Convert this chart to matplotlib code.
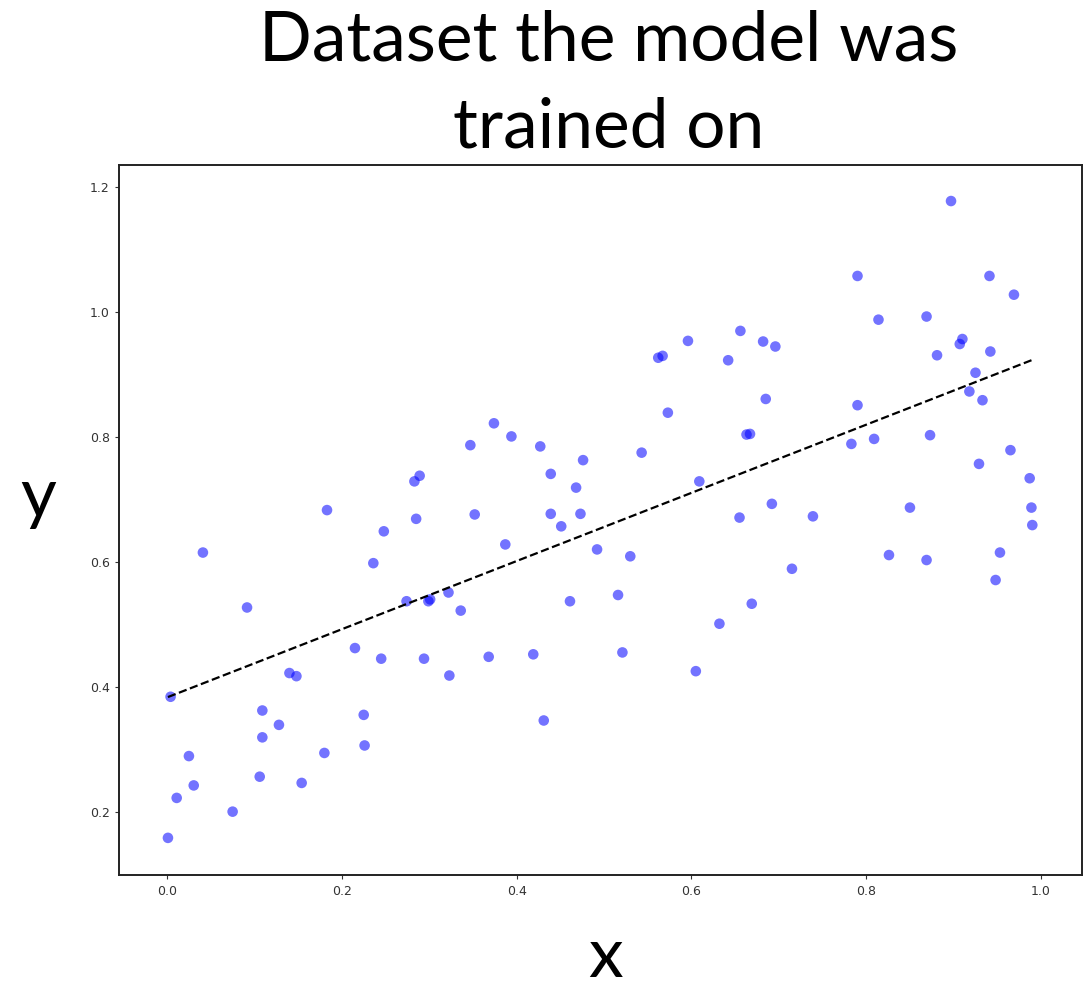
import matplotlib

matplotlib.use("Agg")
import matplotlib.pyplot as plt
import numpy as np

# training samples (x, y)
x_values = [
    0.183, 0.374, 0.347, 0.394, 0.427, 0.476, 0.439, 0.468, 0.289, 0.283,
    0.897, 0.790, 0.941, 0.969, 0.814, 0.869, 0.910, 0.907, 0.881, 0.942,
    0.925, 0.918, 0.933, 0.790, 0.873, 0.809, 0.783, 0.965, 0.929, 0.987,
    0.989, 0.850, 0.739, 0.692, 0.655, 0.562, 0.567, 0.596, 0.642, 0.656,
    0.682, 0.696, 0.573, 0.685, 0.663, 0.667, 0.543, 0.609, 0.041, 0.0915,
    0.248, 0.236, 0.285, 0.352, 0.439, 0.473, 0.451, 0.387, 0.492, 0.274,
    0.299, 0.301, 0.322, 0.336, 0.461, 0.004, 0.215, 0.245, 0.294, 0.368,
    0.419, 0.323, 0.140, 0.148, 0.109, 0.128, 0.109, 0.225, 0.431, 0.025,
    0.180, 0.226, 0.0305, 0.106, 0.154, 0.011, 0.075, 0.001, 0.530, 0.516,
    0.521, 0.715, 0.669, 0.632, 0.605, 0.826, 0.869, 0.953, 0.948, 0.990,
]
y_values = [
    0.683, 0.822, 0.787, 0.801, 0.785, 0.763, 0.741, 0.719, 0.738, 0.729,
    1.178, 1.058, 1.058, 1.028, 0.988, 0.993, 0.957, 0.949, 0.931, 0.937,
    0.903, 0.873, 0.859, 0.851, 0.803, 0.797, 0.789, 0.779, 0.757, 0.734,
    0.687, 0.687, 0.673, 0.693, 0.671, 0.927, 0.930, 0.954, 0.923, 0.970,
    0.953, 0.945, 0.839, 0.861, 0.804, 0.805, 0.775, 0.729, 0.615, 0.527,
    0.649, 0.598, 0.669, 0.676, 0.677, 0.677, 0.657, 0.628, 0.620, 0.537,
    0.537, 0.540, 0.551, 0.522, 0.537, 0.384, 0.462, 0.445, 0.445, 0.448,
    0.452, 0.418, 0.422, 0.417, 0.362, 0.339, 0.319, 0.355, 0.346, 0.289,
    0.294, 0.306, 0.242, 0.256, 0.246, 0.222, 0.200, 0.158, 0.609, 0.547,
    0.455, 0.589, 0.533, 0.501, 0.425, 0.611, 0.603, 0.615, 0.571, 0.659,
]

# fitted linear model
fit_slope = 0.546
fit_intercept = 0.383

x_ticks = [0.0, 0.2, 0.4, 0.6, 0.8, 1.0]
y_ticks = [0.2, 0.4, 0.6, 0.8, 1.0, 1.2]

title_text = "Dataset the model was\ntrained on"
label_font = "Lato"

fig = plt.figure(figsize=(10.89, 9.91), dpi=100)
ax = fig.add_axes([0.1096, 0.1171, 0.8840, 0.7167])

x = np.array(x_values)
y = np.array(y_values)
ax.scatter(x, y, s=58, color="blue", alpha=0.55, edgecolors="none", zorder=2)

line_x = np.array([x.min(), x.max()])
ax.plot(line_x, fit_slope * line_x + fit_intercept, "k--", lw=1.6, zorder=3)

ax.set_xlim(-0.0546, 1.0469)
ax.set_ylim(0.0986, 1.2362)
ax.set_xticks(x_ticks)
ax.set_yticks(y_ticks)
ax.set_xticklabels([f"{t:.1f}" for t in x_ticks])
ax.set_yticklabels([f"{t:.1f}" for t in y_ticks])
ax.tick_params(labelsize=9, length=3, width=0.8, colors="#333333", pad=4)
for spine in ax.spines.values():
    spine.set_linewidth(1.4)
    spine.set_color("#222222")

# multi-line text with va="baseline" sits on the last line's baseline
fig.text(609 / 1089, 1 - 147 / 991, title_text, ha="center", va="baseline",
         fontsize=50, family=label_font, linespacing=1.47)
fig.text(38 / 1089, 1 - 517 / 991, "y", ha="center", va="baseline",
         fontsize=50, family=label_font)
fig.text(606 / 1089, 1 - 977 / 991, "x", ha="center", va="baseline",
         fontsize=50, family=label_font)

fig.savefig("out.png", dpi=100)
